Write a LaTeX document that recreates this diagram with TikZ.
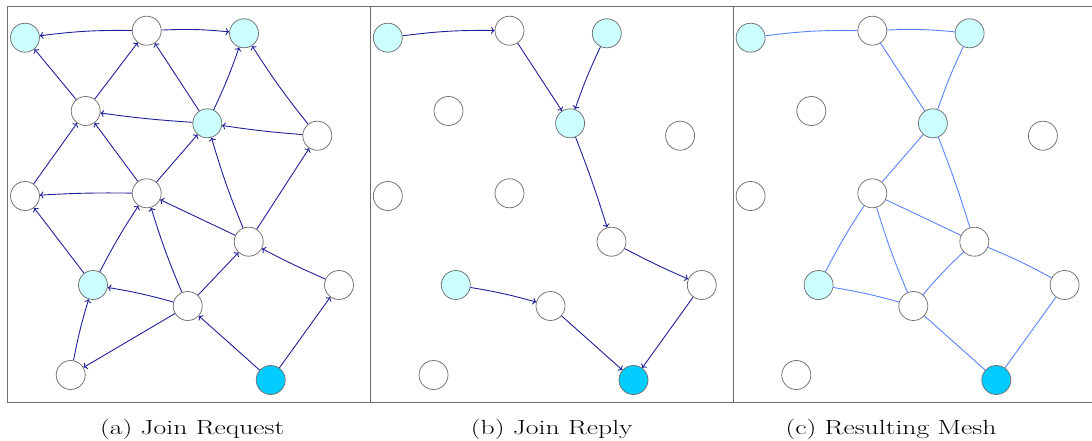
\documentclass[tikz,border=0pt]{standalone}
\usetikzlibrary{arrows.meta}
\definecolor{edgeblue}{HTML}{20209A}
\definecolor{meshblue}{HTML}{5A82FF}
\definecolor{lightcyan}{HTML}{CCFFFF}
\definecolor{deepcyan}{HTML}{00CCFF}
\definecolor{framegray}{HTML}{6E6E6E}
\definecolor{nodegray}{HTML}{707070}
\tikzset{
  peer/.style={circle, draw=nodegray, line width=0.75pt, fill=white, minimum size=29pt, inner sep=0pt},
  joined/.style={peer, fill=lightcyan},
  origin/.style={peer, fill=deepcyan},
  req/.style={draw=edgeblue, line width=0.9pt, -{To[length=3.5pt,width=7pt]}},
  meshline/.style={draw=meshblue, line width=0.9pt},
  panel/.style={draw=framegray, line width=1pt},
  capt/.style={anchor=base, inner sep=0pt, font=\fontsize{20.5}{24}\selectfont}
}
\newcommand\drawpeers[1]{%
  \node[joined] (#1A) at (25,37.7) {};
  \node[peer] (#1B) at (146.7,30.7) {};
  \node[joined] (#1C) at (244,33.3) {};
  \node[peer] (#1D) at (85.7,111) {};
  \node[joined] (#1E) at (207.3,123.3) {};
  \node[peer] (#1F) at (317.3,135.7) {};
  \node[peer] (#1G) at (25,196) {};
  \node[peer] (#1H) at (146.7,193.3) {};
  \node[peer] (#1I) at (248.7,241.7) {};
  \node[joined] (#1J) at (93,285) {};
  \node[peer] (#1K) at (339,285) {};
  \node[peer] (#1L) at (187.7,306) {};
  \node[peer] (#1M) at (70.7,375) {};
  \node[origin] (#1N) at (270.7,380) {};
}
\begin{document}
\begin{tikzpicture}[x=1pt,y=-1pt]
\useasboundingbox (0,0) rectangle (1092,441);
\draw[panel] (7.3,6.7) rectangle (370.7,402);
\draw[panel] (370.7,6.7) rectangle (733.7,402);
\draw[panel] (1092,6.7) -- (733.7,6.7) -- (733.7,402) -- (1092,402);

% (a) Join Request
\begin{scope}
  \drawpeers{a}
  \draw[req] (aB) to[bend right=4] (aA);
  \draw[req] (aB) to[bend left=4] (aC);
  \draw[req] (aD) -- (aA);
  \draw[req] (aD) -- (aB);
  \draw[req] (aE) -- (aB);
  \draw[req] (aE) to[bend right=3] (aC);
  \draw[req] (aF) to[bend left=3] (aC);
  \draw[req] (aE) to[bend left=2] (aD);
  \draw[req] (aF) to[bend left=2] (aE);
  \draw[req] (aG) -- (aD);
  \draw[req] (aH) -- (aD);
  \draw[req] (aH) -- (aE);
  \draw[req] (aH) to[bend right=2] (aG);
  \draw[req] (aI) -- (aH);
  \draw[req] (aI) to[bend left=3] (aE);
  \draw[req] (aI) -- (aF);
  \draw[req] (aJ) -- (aG);
  \draw[req] (aJ) to[bend left=3] (aH);
  \draw[req] (aL) to[bend left=3] (aH);
  \draw[req] (aL) to[bend right=3] (aJ);
  \draw[req] (aL) -- (aI);
  \draw[req] (aK) to[bend left=2] (aI);
  \draw[req] (aM) to[bend left=3] (aJ);
  \draw[req] (aL) -- (aM);
  \draw[req] (aN) -- (aL);
  \draw[req] (aN) -- (aK);
\end{scope}

% (b) Join Reply
\begin{scope}[xshift=362.8pt]
  \drawpeers{b}
  \draw[req] (bA) to[bend left=4] (bB);
  \draw[req] (bB) -- (bE);
  \draw[req] (bC) to[bend right=3] (bE);
  \draw[req] (bE) to[bend left=2] (bI);
  \draw[req] (bI) to[bend right=2] (bK);
  \draw[req] (bK) -- (bN);
  \draw[req] (bJ) to[bend left=3] (bL);
  \draw[req] (bL) -- (bN);
\end{scope}

% (c) Resulting Mesh
\begin{scope}[xshift=725.6pt]
  \drawpeers{c}
  \draw[meshline] (cA) to[bend left=4] (cB);
  \draw[meshline] (cB) to[bend left=4] (cC);
  \draw[meshline] (cB) -- (cE);
  \draw[meshline] (cC) to[bend right=3] (cE);
  \draw[meshline] (cE) -- (cH);
  \draw[meshline] (cE) to[bend left=2] (cI);
  \draw[meshline] (cH) -- (cI);
  \draw[meshline] (cH) to[bend right=3] (cJ);
  \draw[meshline] (cH) to[bend right=3] (cL);
  \draw[meshline] (cJ) to[bend left=3] (cL);
  \draw[meshline] (cL) to[bend left=3] (cI);
  \draw[meshline] (cI) to[bend left=3] (cK);
  \draw[meshline] (cK) -- (cN);
  \draw[meshline] (cL) -- (cN);
\end{scope}

\node[capt] (capa) at (192.2,434) {\scalebox{1.35}[1]{(a) Join Request}};
\node[capt] (capb) at (551.7,434) {\scalebox{1.35}[1]{(b) Join Reply}};
\node[capt] (capc) at (891,434) {\scalebox{1.35}[1]{(c) Resulting Mesh}};
\end{tikzpicture}
\end{document}
